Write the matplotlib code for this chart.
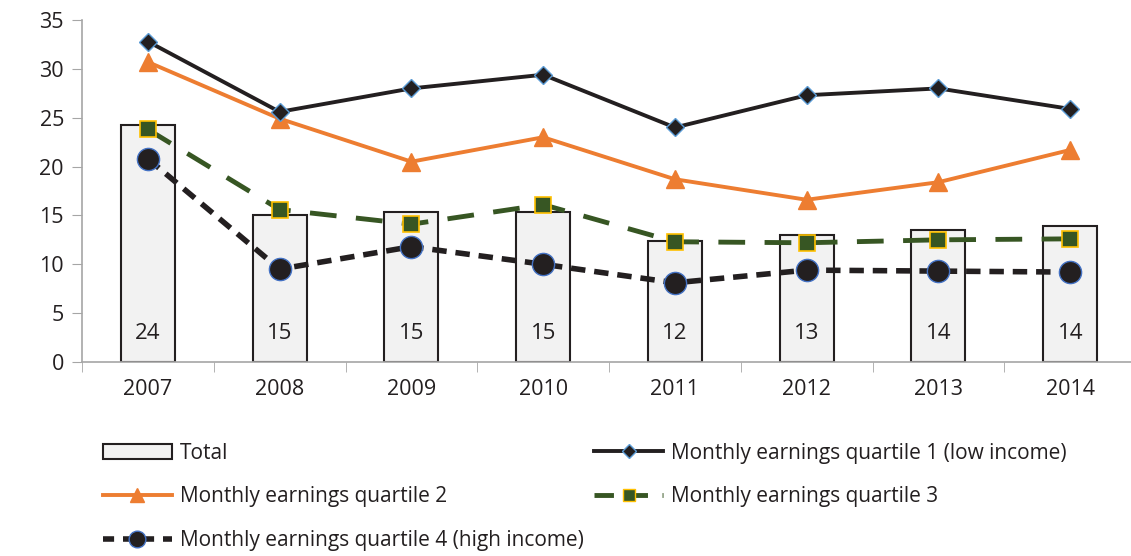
import matplotlib.pyplot as plt
from matplotlib.patches import Patch
from matplotlib.lines import Line2D

plt.rcParams['font.family'] = ['Open Sans', 'DejaVu Sans']

years = ['2007', '2008', '2009', '2010', '2011', '2012', '2013', '2014']
total = [24.3, 15.0, 15.3, 15.4, 12.4, 13.0, 13.5, 13.9]
q1 = [32.8, 25.6, 28.0, 29.4, 24.0, 27.3, 28.0, 25.9]
q2 = [30.7, 24.9, 20.5, 23.0, 18.7, 16.6, 18.4, 21.7]
q3 = [23.8, 15.6, 14.1, 16.1, 12.3, 12.2, 12.5, 12.6]
q4 = [20.8, 9.5, 11.8, 10.0, 8.1, 9.4, 9.3, 9.2]

fig = plt.figure(figsize=(11.31, 5.56), dpi=100)
ax = fig.add_axes([0.0725, 0.349, 0.932, 0.615])

x = list(range(len(years)))
ax.bar(x, total, width=0.41, color='#f2f2f2', edgecolor='#231f20', linewidth=1.5, zorder=1)
for xi, v in zip(x, total):
    ax.text(xi, 2.9, f'{v:.0f}', ha='center', va='center', fontsize=16, color='#231f20', zorder=2)

# quartile lines
ax.plot(x, q1, color='#231f20', lw=2.8, marker='D', ms=9, mfc='#231f20', mec='#5b9bd5', mew=1, zorder=5)
ax.plot(x, q2, color='#ed7d31', lw=2.8, marker='^', ms=13, mfc='#ed7d31', mec='#ed7d31', zorder=4)
ax.plot(x, q3, color='#375623', lw=3.5, ls=(0, (5.5, 4)), marker='s', ms=11, mfc='#375623', mec='#ffc000', mew=1.2, zorder=3)
ax.plot(x, q4, color='#231f20', lw=4, ls=(0, (2.6, 1.6)), marker='o', ms=16, mfc='#231f20', mec='#4472c4', mew=1, zorder=3)

ax.set_xlim(-0.5, 7.5)
ax.set_ylim(0, 35)
ax.set_yticks(range(0, 36, 5))
ax.set_xticks(x)
ax.set_xticklabels(years)
ax.set_xticks([i - 0.5 for i in range(len(years) + 1)], minor=True)
ax.tick_params(axis='x', which='major', length=0, pad=12, labelsize=15.5, colors='#231f20')
ax.tick_params(axis='x', which='minor', length=7, color='#a6a6a6')
ax.tick_params(axis='y', length=7, color='#a6a6a6', labelsize=15.5, labelcolor='#231f20', pad=6)
for s in ['top', 'right']:
    ax.spines[s].set_visible(False)
for s in ['left', 'bottom']:
    ax.spines[s].set_color('#a6a6a6')
    ax.spines[s].set_linewidth(1.2)

# legend, column-major order so rows read Total/Q1, Q2/Q3, Q4
handles = [
    Patch(facecolor='#f2f2f2', edgecolor='#231f20', linewidth=1.5, label='Total'),
    Line2D([0], [0], color='#ed7d31', lw=2.8, marker='^', ms=10, mec='#ed7d31', label='Monthly earnings quartile 2'),
    Line2D([0], [0], color='#231f20', lw=4, ls=(0, (2, 1.6)), marker='o', ms=12, mfc='#231f20', mec='#4472c4', label='Monthly earnings quartile 4 (high income)'),
    Line2D([0], [0], color='#231f20', lw=2.8, marker='D', ms=7, mfc='#231f20', mec='#5b9bd5', label='Monthly earnings quartile 1 (low income)'),
    Line2D([0], [0], color='#375623', lw=3.5, ls=(0, (4, 3)), marker='s', ms=9, mfc='#375623', mec='#ffc000', label='Monthly earnings quartile 3'),
]
fig.legend(handles=handles, ncol=2, loc='upper left', bbox_to_anchor=(0.091, 0.204),
           frameon=False, fontsize=15, handlelength=3.3, handletextpad=0.4,
           columnspacing=0.5, labelspacing=1.1, borderpad=0, borderaxespad=0,
           labelcolor='#231f20')

fig.savefig('out.png', dpi=100)
